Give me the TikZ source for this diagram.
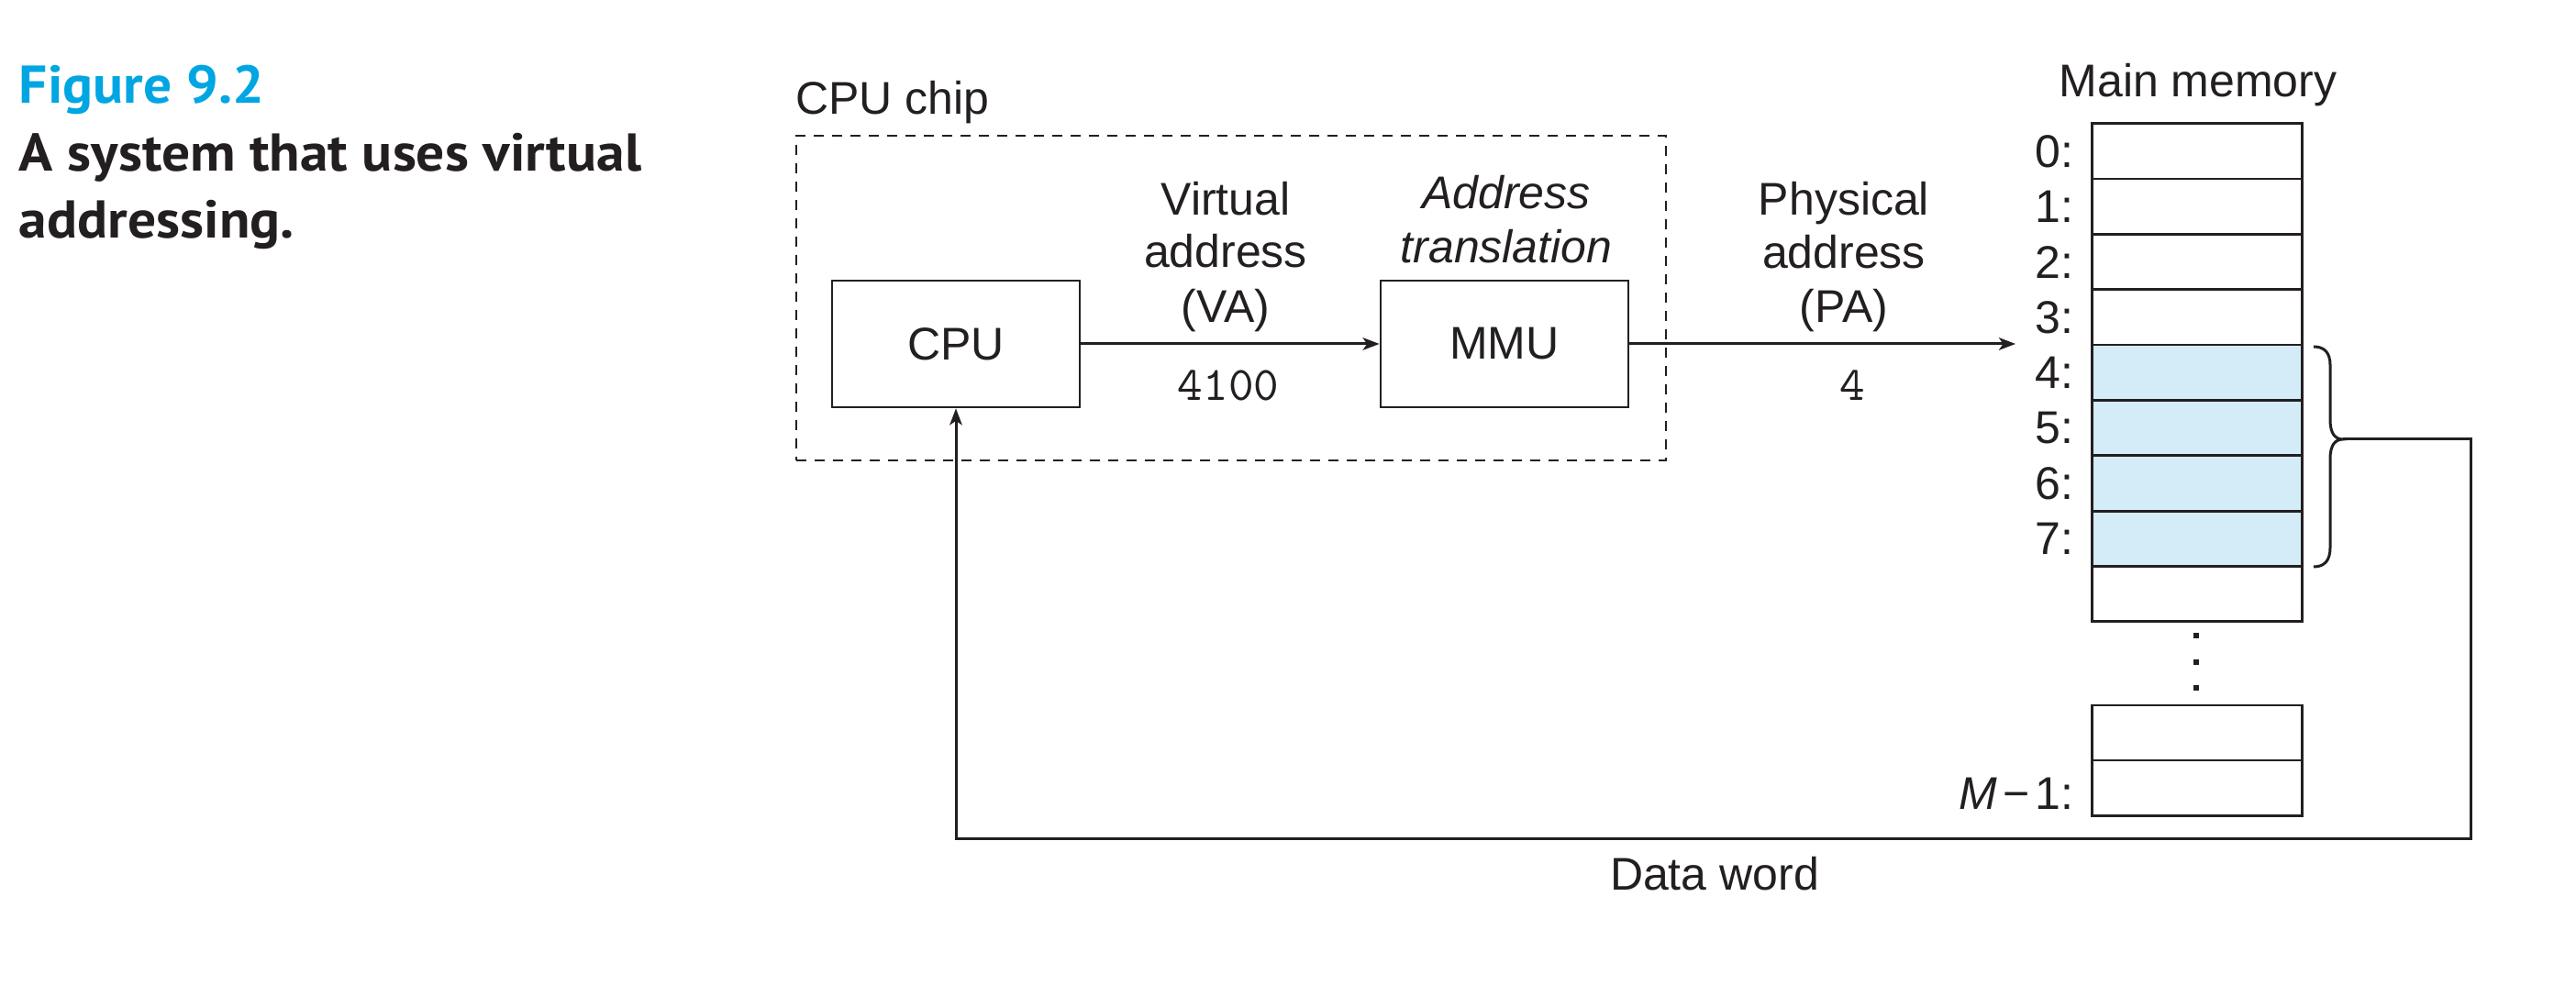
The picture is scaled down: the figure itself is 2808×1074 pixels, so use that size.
\documentclass[tikz,border=0pt]{standalone}
\usepackage{fontspec}
\setmainfont{Liberation Sans}
\newfontfamily\capfont{PT Sans}[FakeStretch=1.06]
\usetikzlibrary{arrows.meta}
\definecolor{figblue}{RGB}{0,166,226}
\definecolor{cellblue}{RGB}{212,235,248}
\definecolor{ink}{RGB}{35,31,32}
\tikzset{
  lbl/.style={inner sep=0pt, text=ink, font=\fontsize{10}{12}\selectfont},
  ilbl/.style={lbl, font=\fontsize{10}{12}\selectfont\itshape},
  tlbl/.style={inner sep=0pt, text=ink, font=\fontsize{10.5}{12}\selectfont\ttfamily},
  capstyle/.style={inner sep=0pt, text=ink, font=\fontsize{11.6}{14}\selectfont\capfont\bfseries},
  blk/.style={draw=ink, line width=0.55pt, minimum width=54pt, minimum height=27.6pt, inner sep=0pt, text=ink, font=\fontsize{10}{12}\selectfont},
  chipbox/.style={draw=ink, line width=0.55pt, dash pattern=on 2.2pt off 1.8pt, minimum width=189.6pt, minimum height=70.8pt, inner sep=0pt},
  cell/.style={draw=ink, line width=0.55pt, minimum width=45.8pt, minimum height=12.07pt, inner sep=0pt, fill=white},
  hcell/.style={cell, fill=cellblue},
  conn/.style={draw=ink, line width=0.6pt, -{Stealth[length=3.6pt,width=2.7pt,inset=0.9pt]}},
  dotmark/.style={fill=ink},
}
\begin{document}
\begin{tikzpicture}[x=0.2pt,y=-0.2pt]
\useasboundingbox (0,0) rectangle (2808,1074);
\fill[white] (0,0) rectangle (2808,1074);

% caption
\node[capstyle, text=figblue, anchor=base west] (fig) at (20,113) {Figure 9.2};
\node[capstyle, anchor=base west] (cap1) at (20,187) {A system that uses virtual};
\node[capstyle, anchor=base west] (cap2) at (20,260) {addressing.};

% CPU chip
\node[chipbox] (chip) at (1342,325) {};
\node[lbl, anchor=base west] (chiplbl) at (866,125) {CPU chip};
\node[blk] (cpu) at (1042,375) {CPU};
\node[blk] (mmu) at (1640,375) {MMU};

% labels on VA arrow
\node[lbl, anchor=base] (va1) at (1336,235) {Virtual};
\node[lbl, anchor=base] (va2) at (1336,292) {address};
\node[lbl, anchor=base] (va3) at (1336,352) {(VA)};
\node[tlbl, anchor=base] (van) at (1339,437) {4100};

\node[ilbl, anchor=base] (at1) at (1642,228) {Address};
\node[ilbl, anchor=base] (at2) at (1642,287) {translation};

\node[lbl, anchor=base] (pa1) at (2010,235) {Physical};
\node[lbl, anchor=base] (pa2) at (2010,293) {address};
\node[lbl, anchor=base] (pa3) at (2010,352) {(PA)};
\node[tlbl, anchor=base] (pan) at (2019,437) {4};

% main memory
\node[lbl, anchor=base] (mmlbl) at (2396,106) {Main memory};
\foreach \i in {0,1,2,3,8}{
  \pgfmathsetmacro\yy{164.875+60.35*\i}
  \node[cell] (m\i) at (2394.75,\yy) {};
}
\foreach \i in {4,5,6,7}{
  \pgfmathsetmacro\yy{164.875+60.35*\i}
  \node[hcell] (m\i) at (2394.75,\yy) {};
}
\foreach \i in {0,...,7}{
  \node[lbl, anchor=east] (l\i) at ([xshift=-3.5pt]m\i.west) {\i:};
}
\node[cell] (ma) at (2394.75,799.2) {};
\node[cell] (mb) at (2394.75,859.3) {};
\node[lbl, anchor=east] (lm) at ([xshift=-3.5pt,yshift=-1.2pt]mb.west) {\textit{M}\kern1.2pt−\kern1.2pt1:};

% dots
\foreach \yy in {693,722,750}{
  \fill[dotmark] ([shift={(-0.65pt,-0.6pt)}]2394,\yy) rectangle ++(1.3pt,1.2pt);
}

% brace
\coordinate (bt) at (2554,479);
\draw[ink, line width=0.6pt] (2522,378) .. controls (2534,378) and (2540,385) .. (2540,398)
  -- (2540,458) .. controls (2540,472) and (2545,479) .. (bt)
  .. controls (2545,479) and (2540,486) .. (2540,500)
  -- (2540,597) .. controls (2540,611) and (2534,618) .. (2522,618);

% connectors
\coordinate (patip) at (2197,375);
\coordinate (rc) at (2693,915);
\draw[conn] (cpu.east) -- (mmu.west);
\draw[conn] (mmu.east) -- (patip);
\draw[conn] (bt) -| (rc) -| (cpu.south);

\node[lbl, anchor=base] (dw) at (1869,971) {Data word};
\end{tikzpicture}
\end{document}
